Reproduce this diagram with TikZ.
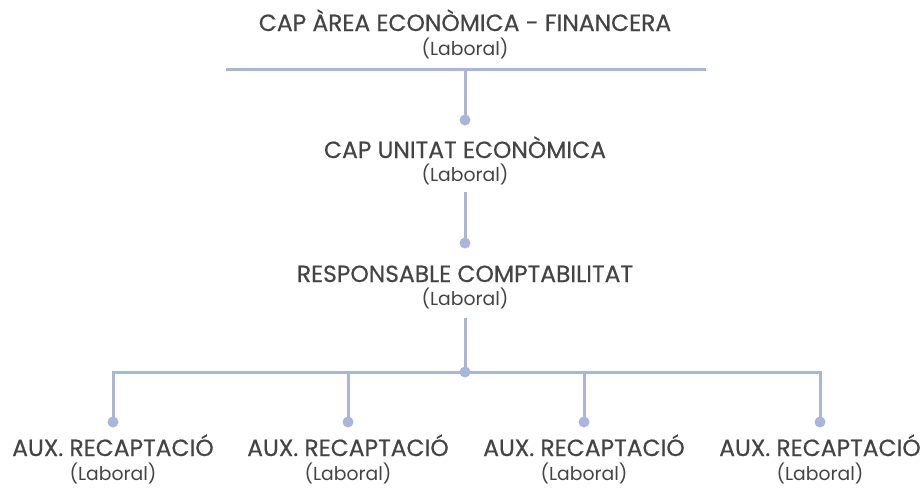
\documentclass[tikz,border=0pt]{standalone}
\usepackage{fontspec}
\setmainfont{Poppins}
\newfontfamily\ttlfont{Poppins}[FakeBold=0.5]
\definecolor{linec}{HTML}{A9B5D9}
\definecolor{txt}{HTML}{444444}
\begin{document}
\begin{tikzpicture}[x=1pt,y=-1pt,
  conn/.style={draw=linec,line width=3pt},
  dot/.style={circle,fill=linec,inner sep=0pt,minimum size=11pt},
  ttl/.style={text=txt,font=\ttlfont\fontsize{23.4}{26}\selectfont,inner sep=0pt,anchor=base},
  sub/.style={text=txt,font=\fontsize{18.8}{21}\selectfont,inner sep=0pt,anchor=base}]
\useasboundingbox (0,0) rectangle (923,488);
% texts
\node[ttl] (t1) at (465,31) {CAP ÀREA ECONÒMICA - FINANCERA};
\node[sub] (s1) at (465,55) {(Laboral)};
\node[ttl] (t2) at (465,158) {CAP UNITAT ECONÒMICA};
\node[sub] (s2) at (465,181) {(Laboral)};
\node[ttl] (t3) at (465,282) {RESPONSABLE COMPTABILITAT};
\node[sub] (s3) at (465,305) {(Laboral)};
\foreach \i/\x in {1/113,2/348,3/584,4/820}{
  \node[ttl] (a\i) at (\x,456) {AUX. RECAPTACIÓ};
  \node[sub] (b\i) at (\x,480) {(Laboral)};
}
% coordinates
\coordinate (hl) at (226,69);
\coordinate (hr) at (706,69);
\coordinate (hm) at (465,69);
\node[dot] (d1) at (465,120) {};
\node[dot] (d2) at (465,243) {};
\coordinate (c3) at (465,318);
\coordinate (c2) at (465,192);
\node[dot] (d3) at (465,372) {};
\coordinate (bl) at (113,372);
\coordinate (br) at (820,372);
\foreach \i/\x in {1/113,2/348,3/584,4/820}{
  \coordinate (top\i) at (\x,372);
  \node[dot] (e\i) at (\x,422) {};
}
% connectors
\draw[conn] (hl) -- (hr);
\draw[conn] (hm) -- (d1.center);
\draw[conn] (c2) -- (d2.center);
\draw[conn] (c3) -- (d3.center);
\draw[conn] ([yshift=1.5pt]bl) -- (top1) -- (br) -- ([yshift=1.5pt]br);
\foreach \i in {1,...,4}{
  \draw[conn] ([yshift=-1.5pt]top\i) -- (e\i.center);
}
\end{tikzpicture}
\end{document}
